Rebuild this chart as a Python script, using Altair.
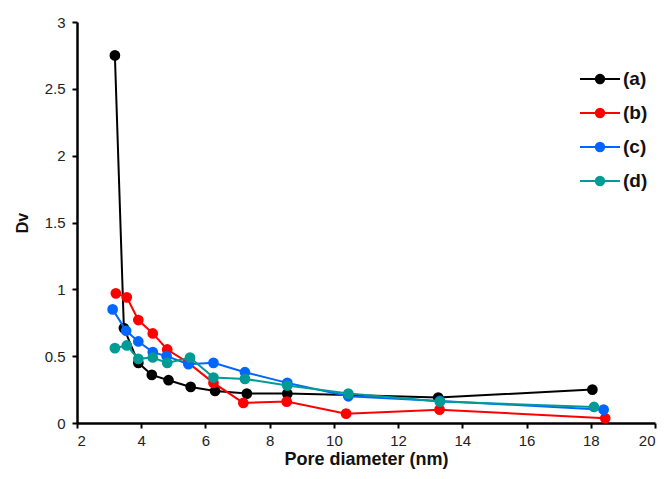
import altair as alt
import pandas as pd

series_names = ["(a)", "(b)", "(c)", "(d)"]
series_colors = ["#000000", "#ff0000", "#0066ff", "#009b95"]

x_a = [3.18, 3.46, 3.91, 4.33, 4.85, 5.54, 6.3, 7.29, 8.55, 10.45, 13.25, 18.05]
y_a = [2.75, 0.71, 0.45, 0.36, 0.32, 0.27, 0.24, 0.22, 0.22, 0.21, 0.19, 0.25]
x_b = [3.21, 3.55, 3.91, 4.36, 4.81, 5.47, 6.25, 7.18, 8.53, 10.38, 13.29, 18.45]
y_b = [0.97, 0.94, 0.77, 0.67, 0.55, 0.45, 0.30, 0.15, 0.16, 0.07, 0.10, 0.035]
x_c = [3.11, 3.53, 3.91, 4.36, 4.79, 5.47, 6.25, 7.23, 8.55, 10.45, 13.3, 18.4]
y_c = [0.85, 0.69, 0.61, 0.53, 0.50, 0.44, 0.45, 0.38, 0.30, 0.20, 0.165, 0.10]
x_d = [3.18, 3.55, 3.91, 4.36, 4.81, 5.52, 6.25, 7.23, 8.55, 10.45, 13.3, 18.1]
y_d = [0.56, 0.58, 0.48, 0.49, 0.45, 0.49, 0.34, 0.33, 0.28, 0.22, 0.16, 0.12]

rows = []
for name, xs, ys in zip(series_names, [x_a, x_b, x_c, x_d], [y_a, y_b, y_c, y_d]):
    for x, y in zip(xs, ys):
        rows.append({"s": name, "x": x, "y": y})
df = pd.DataFrame(rows)

legend = alt.Legend(
    title=None,
    orient="none",
    legendX=512,
    legendY=46,
    symbolType="M-2,0H2M0.42,0A0.42,0.42,0,1,1,-0.42,0A0.42,0.42,0,1,1,0.42,0Z",
    symbolSize=400,
    symbolStrokeWidth=2,
    labelFont="Liberation Sans",
    labelFontSize=19,
    labelFontWeight="bold",
    labelColor="#111111",
    labelOffset=12,
    rowPadding=13,
)
color = alt.Color("s:N", scale=alt.Scale(domain=series_names, range=series_colors), legend=legend)

x_enc = alt.X(
    "x:Q",
    scale=alt.Scale(domain=[2, 20], nice=False, zero=False),
    axis=alt.Axis(values=list(range(2, 21, 2)), title="Pore diameter (nm)",
                  labelPadding=5, titlePadding=2, titleFontSize=18),
)
y_enc = alt.Y(
    "y:Q",
    scale=alt.Scale(domain=[0, 3], nice=False),
    axis=alt.Axis(values=[0, 0.5, 1, 1.5, 2, 2.5, 3], format="~g", title="Dv",
                  labelPadding=7, titlePadding=14, titleFontSize=16),
)

lines = alt.Chart(df).mark_line(strokeWidth=2).encode(x=x_enc, y=y_enc, color=color, detail="s:N")
points = alt.Chart(df).mark_point(filled=True, size=115, opacity=1).encode(x=x_enc, y=y_enc, color=color)

layers = []
for name in series_names:
    layers.append(lines.transform_filter(alt.datum.s == name))
    layers.append(points.transform_filter(alt.datum.s == name))

chart = alt.layer(*layers).properties(
    width=578,
    height=401,
    autosize=alt.AutoSizeParams(type="none"),
    padding={"left": 69, "top": 14, "right": 5, "bottom": 48},
).configure_view(stroke=None).configure_axis(
    grid=False,
    domainColor="#000000",
    domainWidth=2.5,
    tickColor="#000000",
    tickWidth=2,
    tickSize=5,
    labelFont="Liberation Sans",
    labelFontSize=15,
    labelColor="#222222",
    titleFont="Liberation Sans",
    titleFontWeight="bold",
    titleColor="#111111",
)

chart.save("out.html", embed_options={"renderer": "svg", "actions": False})
